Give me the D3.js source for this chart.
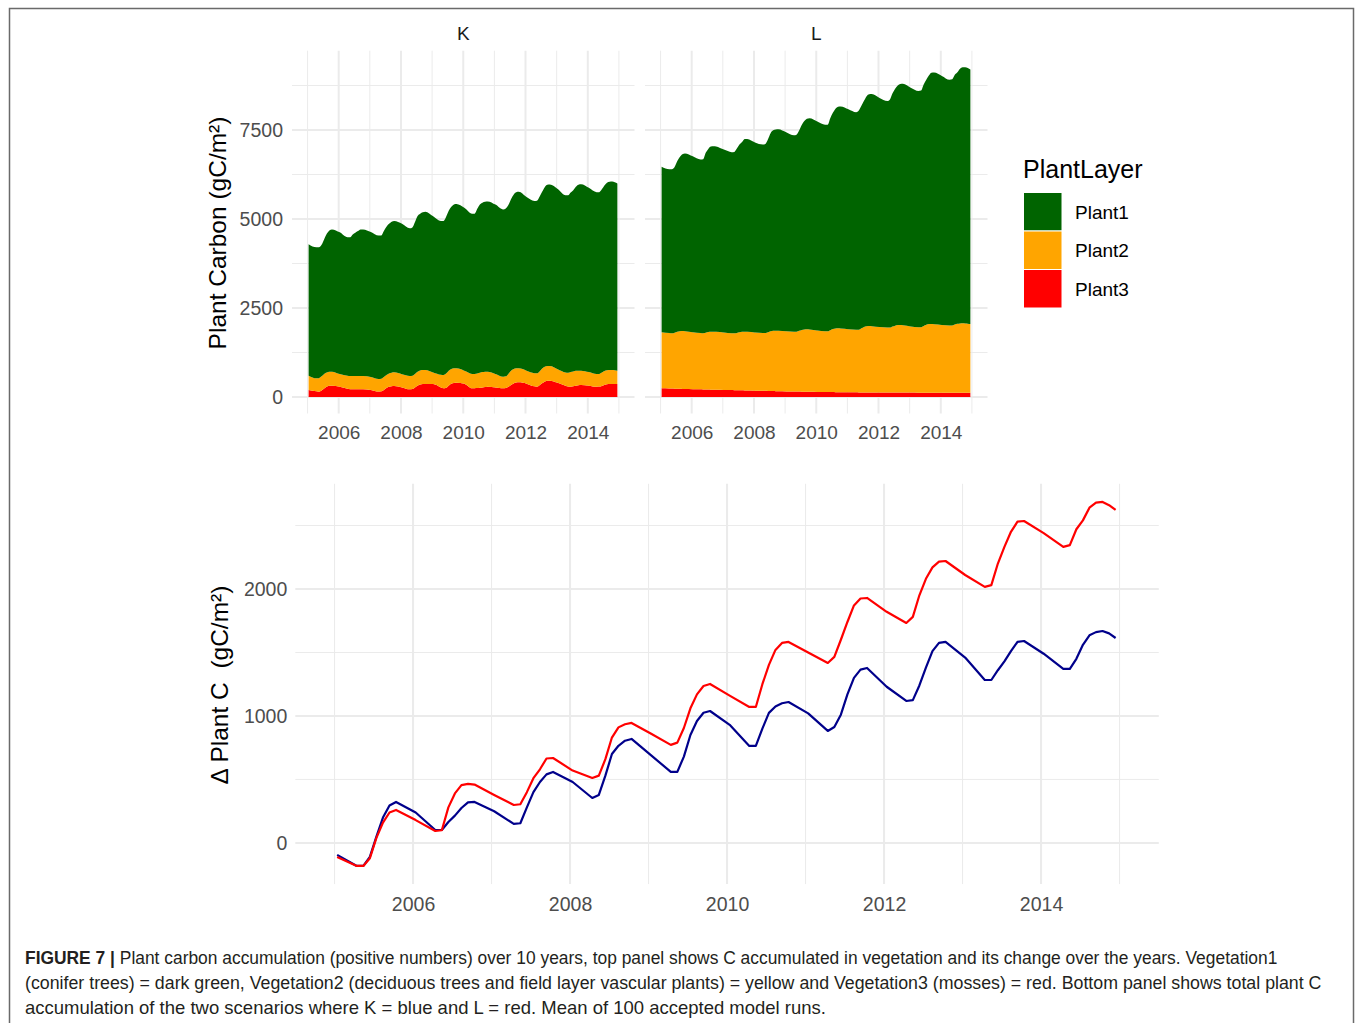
<!DOCTYPE html>
<html>
<head>
<meta charset="utf-8">
<script src="https://cdn.jsdelivr.net/npm/d3@7/dist/d3.min.js"></script>
<style>
  html, body { margin: 0; padding: 0; background: #fff; }
  svg { display: block; font-family: "Liberation Sans", Arial, sans-serif; }
</style>
</head>
<body>
<svg id="chart" width="1355" height="1023"></svg>
<script>
// ---------------- DATA ----------------
// month index since Jan 2005 (key months)
const months = [0,3,4,5,6,7,8,9, 12,15,16,17,18,19,20,21, 24,27,28,29,30,31,32,33,
  36,39,40,41,42,43,44,45, 48,51,52,53,54,55,56,57, 60,63,64,65,66,67,68,69,
  72,75,76,77,78,79,80,81, 84,87,88,89,90,91,92,93, 96,99,100,101,102,103,104,105,
  108,111,112,113,114,115,116,117,118,119];

const panels = ["K", "L"];
const layers = ["Plant1", "Plant2", "Plant3"];
const layerColors = ["#006400", "#FFA500", "#FF0000"];

const kPlant1 = [3692,3680,3674,3695,3785,3895,3970,3997, 3979,3887,3897,3975,4025,4070,4115,4118,
  4075,4030,4030,4105,4165,4205,4240,4251, 4225,4149,4163,4265,4375,4405,4432,4446,
  4385,4319,4327,4405,4495,4555,4605,4619, 4575,4499,4503,4625,4729,4760,4774,4784,
  4755,4696,4718,4745,4815,4895,4945,4958, 4875,4833,4845,4905,4965,5045,5090,5098,
  5065,4978,4985,5045,5090,5170,5225,5235, 5175,5109,5105,5145,5215,5270,5287,5296,5285,5259];
const kPlant2 = [402,364,380,400,410,400,395,393, 356,365,370,375,375,375,375,375,
  360,350,350,360,370,375,385,384, 370,375,375,380,390,395,393,393,
  325,355,373,400,420,420,410,403, 365,405,401,410,420,430,431,421,
  380,328,330,360,400,410,400,393, 365,370,375,390,410,420,415,411,
  380,370,388,410,420,420,410,403, 380,356,358,380,390,390,393,393,385,375];
const kPlant3 = [197,160,150,180,240,290,315,318, 290,235,220,215,215,215,215,215,
  200,155,160,200,250,285,300,309, 270,215,225,270,320,350,365,365,
  365,270,245,260,320,370,395,402, 375,245,245,250,260,270,280,290,
  270,243,250,290,340,380,405,412, 375,300,290,330,390,430,455,459,
  400,320,295,290,300,315,330,337, 320,290,292,310,340,360,365,365,365,365];

const lPlant1 = [4653,4604,4610,4655,4790,4890,4966,4990, 4940,4879,4891,5055,5145,5200,5210,5210,
  5140,5090,5096,5180,5270,5325,5410,5419, 5335,5292,5310,5420,5565,5630,5651,5665,
  5590,5517,5535,5625,5755,5850,5915,5934, 5875,5806,5806,5955,6072,6175,6226,6238,
  6175,6107,6155,6250,6350,6460,6511,6519, 6435,6362,6410,6550,6655,6730,6773,6782,
  6710,6639,6650,6785,6881,6982,7060,7070, 6995,6901,6913,7015,7065,7152,7191,7200,7182,7152];
const lPlant2 = [1574,1557,1553,1571,1598,1620,1626,1624, 1600,1580,1576,1594,1616,1628,1630,1627,
  1612,1594,1596,1609,1631,1648,1650,1647, 1637,1625,1627,1649,1676,1693,1699,1697,
  1692,1680,1681,1708,1735,1752,1754,1752, 1722,1704,1705,1736,1772,1788,1793,1790,
  1772,1759,1760,1800,1841,1861,1866,1862, 1838,1824,1824,1855,1880,1895,1898,1894,
  1856,1834,1837,1872,1907,1926,1928,1923, 1903,1888,1890,1913,1933,1946,1947,1943,1936,1928];
const lPlant3 = [243,238,236,234,232,230,228,226, 220,215,213,211,209,207,205,203,
  198,195,193,191,189,187,185,183, 178,175,173,171,169,167,165,163,
  158,155,154,152,150,148,147,146, 143,141,140,139,138,137,136,135,
  133,131,130,130,129,129,128,128, 127,126,126,125,125,125,124,124,
  124,123,123,123,123,122,122,122, 122,122,122,122,122,122,122,122,122,122];

// bottom panel: change in total plant C
const deltaK = [-94,-181,-181,-110,50,200,295,323, 240,102,102,165,215,275,320,323,
  250,150,155,280,400,480,540,559, 480,354,378,530,700,765,805,819,
  690,559,560,680,850,960,1025,1039, 930,764,764,900,1024,1075,1100,1110,
  1020,882,913,1010,1170,1300,1365,1378, 1230,1118,1125,1240,1380,1510,1575,1583,
  1460,1283,1283,1360,1430,1510,1583,1590, 1490,1370,1370,1450,1560,1635,1660,1669,1650,1614];
const deltaL = [-110,-181,-181,-120,40,160,240,260, 180,94,100,280,390,455,465,460,
  378,299,305,400,510,580,665,669, 570,512,530,660,830,910,935,945,
  860,772,790,905,1060,1170,1236,1252, 1160,1071,1071,1250,1402,1520,1575,1583,
  1500,1417,1465,1600,1740,1870,1925,1929, 1820,1732,1780,1950,2080,2170,2215,2220,
  2110,2016,2030,2200,2331,2450,2530,2535, 2440,2331,2345,2470,2540,2640,2680,2685,2660,2622];

const scenarioColors = ["#00008B", "#FF0000"];

const yearTicks = [2006, 2008, 2010, 2012, 2014];
const yearMinor = [2005, 2007, 2009, 2011, 2013, 2015];
const topYTicks = [0, 2500, 5000, 7500];
const topYMinor = [1250, 3750, 6250, 8750];
const botYTicks = [0, 1000, 2000];
const botYMinor = [500, 1500, 2500];

const captionBold = "FIGURE 7 | ";
const captionLines = [
  "Plant carbon accumulation (positive numbers) over 10 years, top panel shows C accumulated in vegetation and its change over the years. Vegetation1",
  "(conifer trees) = dark green, Vegetation2 (deciduous trees and field layer vascular plants) = yellow and Vegetation3 (mosses) = red. Bottom panel shows total plant C",
  "accumulation of the two scenarios where K = blue and L = red. Mean of 100 accepted model runs."
];

// ---------------- DRAW ----------------
const svg = d3.select("#chart");
const toYear = m => 2005 + (m + 0.4) / 12;
const fmt = d3.format("d");

// figure border
svg.append("rect").attr("x", 9.5).attr("y", 8.5).attr("width", 1344).attr("height", 1030)
  .attr("fill", "none").attr("stroke", "#6a6a6a").attr("stroke-width", 1.5);

const gridColor = "#ebebeb";
const tickColor = "#4d4d4d";

// top panels
const topY = d3.scaleLinear().domain([-463, 9728]).range([413.5, 50.7]);
const panelX = [[292, 634.5], [645, 987.5]];
const panelData = [[kPlant1, kPlant2, kPlant3], [lPlant1, lPlant2, lPlant3]];

panels.forEach((p, pi) => {
  const x = d3.scaleLinear().domain([2004.5, 2015.5]).range(panelX[pi]);
  const g = svg.append("g");
  const [x0, x1] = panelX[pi];
  // grid
  topYMinor.forEach(v => g.append("line").attr("x1", x0).attr("x2", x1)
    .attr("y1", topY(v)).attr("y2", topY(v)).attr("stroke", gridColor).attr("stroke-width", 1));
  yearMinor.forEach(v => g.append("line").attr("x1", x(v)).attr("x2", x(v))
    .attr("y1", topY.range()[0]).attr("y2", topY.range()[1]).attr("stroke", gridColor).attr("stroke-width", 1));
  topYTicks.forEach(v => g.append("line").attr("x1", x0).attr("x2", x1)
    .attr("y1", topY(v)).attr("y2", topY(v)).attr("stroke", gridColor).attr("stroke-width", 2));
  yearTicks.forEach(v => g.append("line").attr("x1", x(v)).attr("x2", x(v))
    .attr("y1", topY.range()[0]).attr("y2", topY.range()[1]).attr("stroke", gridColor).attr("stroke-width", 2));

  // stacked areas
  const rows = months.map((m, i) => ({
    t: toYear(m),
    Plant1: panelData[pi][0][i], Plant2: panelData[pi][1][i], Plant3: panelData[pi][2][i]
  }));
  const stack = d3.stack().keys(["Plant3", "Plant2", "Plant1"]);
  const series = stack(rows);
  const area = d3.area().x(d => x(d.data.t)).y0(d => topY(d[0])).y1(d => topY(d[1]))
    .curve(d3.curveMonotoneX);
  series.forEach(s => {
    g.append("path").attr("d", area(s))
      .attr("fill", layerColors[layers.indexOf(s.key)]);
  });

  // x axis
  const ax = g.append("g").attr("transform", `translate(0,${topY.range()[0]})`)
    .call(d3.axisBottom(x).tickValues(yearTicks).tickFormat(fmt).tickSize(0).tickPadding(12.5));
  ax.select(".domain").remove();
  ax.selectAll("text").attr("font-size", 19).attr("fill", tickColor)
    .attr("font-family", "Liberation Sans, Arial, sans-serif");

  // strip label
  g.append("text").attr("x", (x0 + x1) / 2).attr("y", 40).attr("text-anchor", "middle")
    .attr("font-size", 19).attr("fill", "#1a1a1a").text(p);

  if (pi === 0) {
    const ay = g.append("g").attr("transform", `translate(${x0},0)`)
      .call(d3.axisLeft(topY).tickValues(topYTicks).tickFormat(fmt).tickSize(0).tickPadding(9));
    ay.select(".domain").remove();
    ay.selectAll("text").attr("font-size", 19.5).attr("fill", tickColor)
      .attr("font-family", "Liberation Sans, Arial, sans-serif");
  }
});

// top y title
svg.append("text").attr("transform", "translate(226,233) rotate(-90)")
  .attr("text-anchor", "middle").attr("font-size", 24.5).attr("fill", "#000")
  .text("Plant Carbon (gC/m²)");

// legend
const lg = svg.append("g");
lg.append("text").attr("x", 1023).attr("y", 178).attr("font-size", 25).attr("fill", "#000").text("PlantLayer");
layers.forEach((l, i) => {
  const y0 = 192.5 + i * 38.5;
  lg.append("rect").attr("x", 1023.5).attr("y", y0).attr("width", 38.5).attr("height", 38.5)
    .attr("fill", layerColors[i]).attr("stroke", "#fff").attr("stroke-width", 1);
  lg.append("text").attr("x", 1075).attr("y", y0 + 19.25).attr("dy", "0.36em")
    .attr("font-size", 19).attr("fill", "#000").text(l);
});

// bottom panel
const bx = d3.scaleLinear().domain([2004.5, 2015.5]).range([295.3, 1158.8]);
const by = d3.scaleLinear().domain([-324, 2828]).range([884.1, 483.8]);
const bg = svg.append("g");
botYMinor.forEach(v => bg.append("line").attr("x1", bx.range()[0]).attr("x2", bx.range()[1])
  .attr("y1", by(v)).attr("y2", by(v)).attr("stroke", gridColor).attr("stroke-width", 1));
yearMinor.forEach(v => bg.append("line").attr("x1", bx(v)).attr("x2", bx(v))
  .attr("y1", by.range()[0]).attr("y2", by.range()[1]).attr("stroke", gridColor).attr("stroke-width", 1));
botYTicks.forEach(v => bg.append("line").attr("x1", bx.range()[0]).attr("x2", bx.range()[1])
  .attr("y1", by(v)).attr("y2", by(v)).attr("stroke", gridColor).attr("stroke-width", 2));
yearTicks.forEach(v => bg.append("line").attr("x1", bx(v)).attr("x2", bx(v))
  .attr("y1", by.range()[0]).attr("y2", by.range()[1]).attr("stroke", gridColor).attr("stroke-width", 2));

const line = d3.line().x((d, i) => bx(toYear(months[i]))).y(d => by(d)).curve(d3.curveLinear);
[deltaK, deltaL].forEach((s, si) => {
  bg.append("path").attr("d", line(s)).attr("fill", "none")
    .attr("stroke", scenarioColors[si]).attr("stroke-width", 2.2).attr("stroke-linejoin", "round");
});

const bax = bg.append("g").attr("transform", `translate(0,${by.range()[0]})`)
  .call(d3.axisBottom(bx).tickValues(yearTicks).tickFormat(fmt).tickSize(0).tickPadding(13));
bax.select(".domain").remove();
bax.selectAll("text").attr("font-size", 19.5).attr("fill", tickColor)
  .attr("font-family", "Liberation Sans, Arial, sans-serif");
const bay = bg.append("g").attr("transform", `translate(${bx.range()[0]},0)`)
  .call(d3.axisLeft(by).tickValues(botYTicks).tickFormat(fmt).tickSize(0).tickPadding(8));
bay.select(".domain").remove();
bay.selectAll("text").attr("font-size", 19.5).attr("fill", tickColor)
  .attr("font-family", "Liberation Sans, Arial, sans-serif");

svg.append("text").attr("transform", "translate(228,685) rotate(-90)")
  .attr("text-anchor", "middle").attr("font-size", 24.5).attr("fill", "#000")
  .style("white-space", "pre").text("Δ Plant C  (gC/m²)");

// caption
const capWidths = [1254, 1298, 801];
captionLines.forEach((ln, i) => {
  const t = svg.append("text").attr("x", 0).attr("y", 0).attr("font-size", 17.5).attr("fill", "#231f20");
  if (i === 0) t.append("tspan").attr("font-weight", "bold").text(captionBold);
  t.append("tspan").text(ln);
  const w = t.node().getComputedTextLength();
  t.attr("transform", `translate(25,${964 + i * 25}) scale(${capWidths[i] / w},1)`);
});
</script>
</body>
</html>
